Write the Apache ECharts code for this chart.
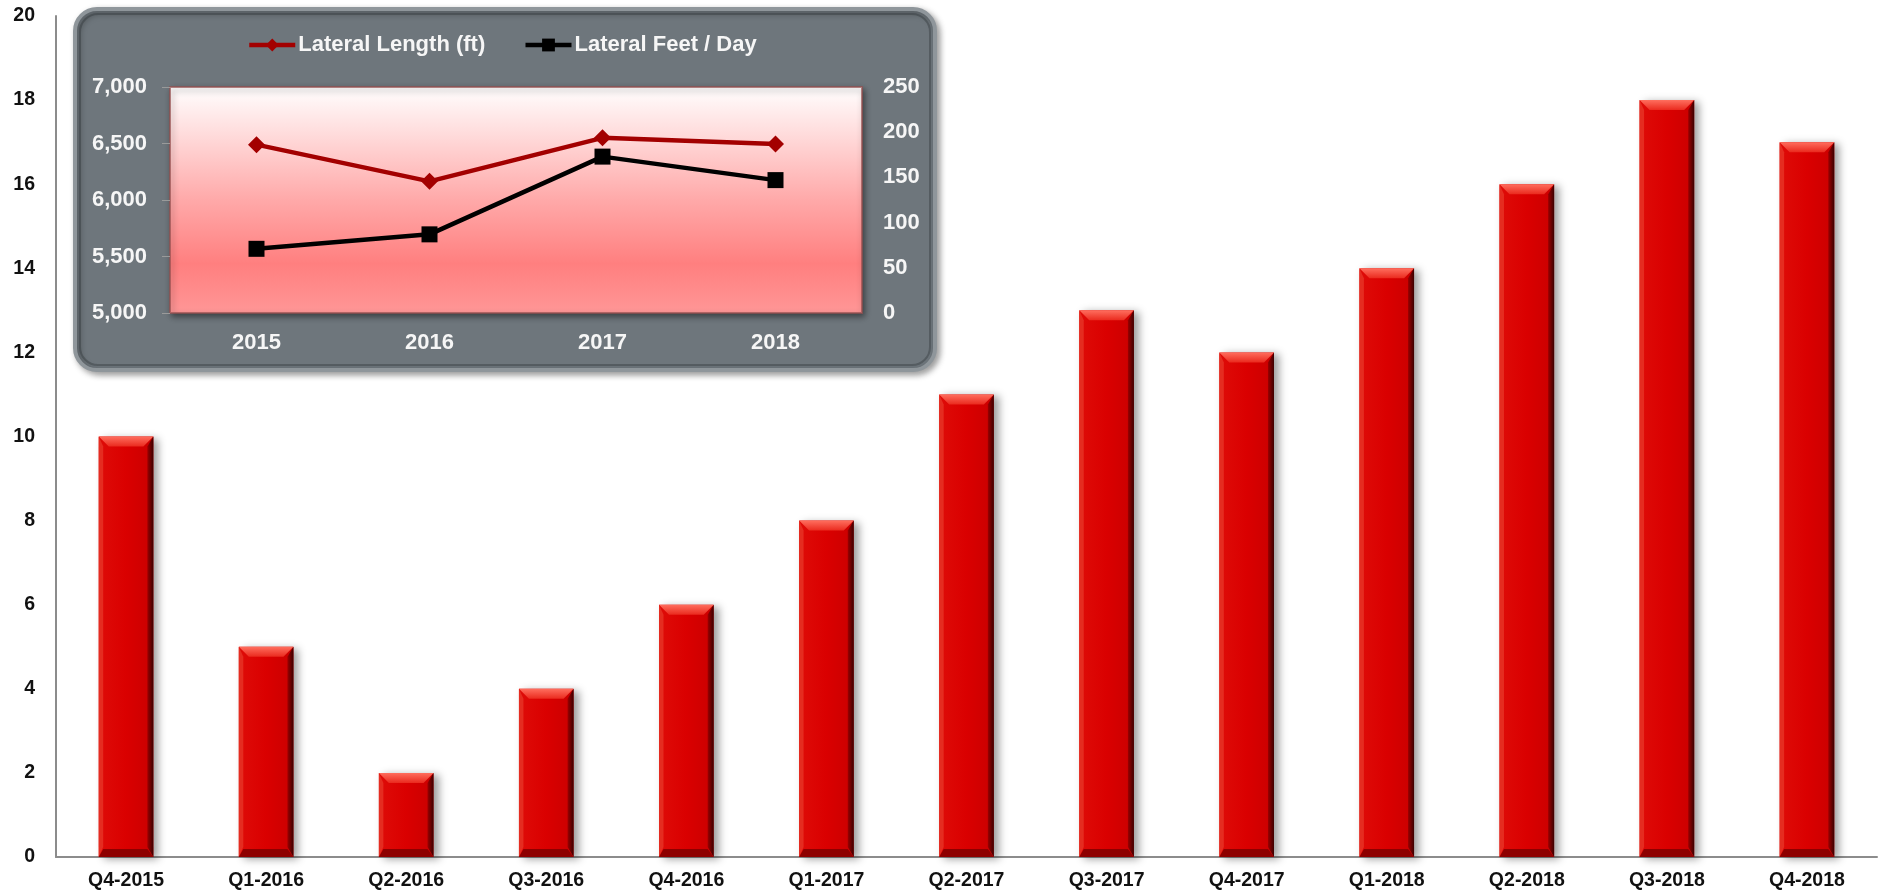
<!DOCTYPE html>
<html>
<head>
<meta charset="utf-8">
<title>Quarterly values with lateral length inset</title>
<script src="https://cdn.jsdelivr.net/npm/echarts/dist/echarts.min.js"></script>
<style>
  html, body { margin: 0; padding: 0; background: #ffffff; }
  #chart { width: 1881px; height: 895px; }
</style>
</head>
<body>
<div id="chart"></div>
<script>
// Quarterly bars
const quarters = ['Q4-2015', 'Q1-2016', 'Q2-2016', 'Q3-2016', 'Q4-2016', 'Q1-2017', 'Q2-2017',
  'Q3-2017', 'Q4-2017', 'Q1-2018', 'Q2-2018', 'Q3-2018', 'Q4-2018'];
const quarterlyValues = [10, 5, 2, 4, 6, 8, 11, 13, 12, 14, 16, 18, 17];

// Inset: yearly lateral metrics
const years = ['2015', '2016', '2017', '2018'];
const lateralLength = [6490, 6165, 6550, 6495];
const lateralFeetPerDay = [71, 87, 173, 147];

const FONT = "'Liberation Sans', Arial, Helvetica, sans-serif";
const LIGHT_TEXT = '#f6f6f6';

const chart = echarts.init(document.getElementById('chart'), null, { renderer: 'canvas' });

// Beveled red bar drawn from the category / value scales
function renderBevelBar(params, api) {
  const idx = api.value(0);
  const v = api.value(1);
  const top = api.coord([idx, v]);
  const base = api.coord([idx, 0]);
  const w = api.size([1, 0])[0] * 0.39;
  const x0 = top[0] - w / 2, x1 = top[0] + w / 2;
  const y0 = top[1], y1 = base[1];
  const b = Math.min(10, (y1 - y0) / 2);
  return {
    type: 'group',
    children: [
      {
        type: 'rect',
        shape: { x: x0, y: y0, width: w, height: y1 - y0 },
        style: {
          fill: new echarts.graphic.LinearGradient(0, 0, 1, 0, [
            { offset: 0, color: '#de0c08' },
            { offset: 0.5, color: '#da0000' },
            { offset: 1, color: '#ca0000' }
          ]),
          shadowBlur: 8, shadowOffsetX: 5, shadowOffsetY: 2, shadowColor: 'rgba(0,0,0,0.38)'
        }
      },
      {
        type: 'polygon',
        shape: { points: [[x0, y0], [x1, y0], [x1 - b, y0 + b], [x0 + b, y0 + b]] },
        style: {
          fill: new echarts.graphic.LinearGradient(0, 0, 0, 1, [
            { offset: 0, color: '#ff6e5e' },
            { offset: 1, color: '#ea2a1e' }
          ])
        }
      },
      {
        type: 'polygon',
        shape: { points: [[x0, y0], [x0 + b * 0.45, y0 + b], [x0 + b * 0.45, y1 - b], [x0, y1]] },
        style: { fill: '#e52c20' }
      },
      {
        type: 'polygon',
        shape: { points: [[x1, y0], [x1 - b * 0.6, y0 + b], [x1 - b * 0.6, y1 - b], [x1, y1]] },
        style: {
          fill: new echarts.graphic.LinearGradient(0, 0, 1, 0, [
            { offset: 0, color: '#9c0000' },
            { offset: 1, color: '#3c0000' }
          ])
        }
      },
      {
        type: 'polygon',
        shape: { points: [[x0, y1], [x1, y1], [x1 - b * 0.6, y1 - b * 0.8], [x0 + b * 0.45, y1 - b * 0.8]] },
        style: { fill: '#8e0000' }
      }
    ]
  };
}

const option = {
  animation: false,
  backgroundColor: '#ffffff',
  textStyle: { fontFamily: FONT },
  graphic: [
    {
      type: 'rect',
      z: 3,
      shape: { x: 75, y: 9, width: 860, height: 361, r: 22 },
      style: {
        fill: '#6e767c',
        stroke: '#8f969b',
        lineWidth: 4,
        shadowBlur: 6, shadowOffsetX: 3, shadowOffsetY: 3, shadowColor: 'rgba(0,0,0,0.35)'
      }
    },
    {
      type: 'rect',
      z: 3,
      shape: { x: 80, y: 14, width: 850, height: 351, r: 18 },
      style: { fill: 'none', stroke: 'rgba(40,45,50,0.35)', lineWidth: 2 }
    }
  ],
  legend: {
    z: 8,
    left: 247,
    top: 34,
    padding: 0,
    itemWidth: 46,
    itemHeight: 16,
    itemGap: 38,
    lineStyle: { width: 4.5 },
    textStyle: { color: LIGHT_TEXT, fontSize: 22, fontWeight: 'bold', fontFamily: FONT, padding: [0, 0, 0, -2] },
    data: ['Lateral Length (ft)', 'Lateral Feet / Day']
  },
  grid: [
    { left: 56, right: 4, top: 16, bottom: 38, containLabel: false },
    {
      z: 4,
      left: 170, top: 87, width: 692, height: 226,
      show: true,
      backgroundColor: {
        type: 'linear', x: 0, y: 0, x2: 0, y2: 1,
        colorStops: [
          { offset: 0, color: '#ffffff' },
          { offset: 0.22, color: '#ffdada' },
          { offset: 0.5, color: '#ffa9a9' },
          { offset: 0.78, color: '#ff7f7f' },
          { offset: 1, color: '#ff9797' }
        ]
      },
      borderColor: 'rgba(150,80,80,0.7)',
      borderWidth: 2,
      shadowColor: 'rgba(0,0,0,0.45)',
      shadowBlur: 6, shadowOffsetX: 2, shadowOffsetY: 3
    }
  ],
  xAxis: [
    {
      type: 'category',
      gridIndex: 0,
      data: quarters,
      boundaryGap: true,
      axisLine: { show: true, lineStyle: { color: '#8c8c8c', width: 2 } },
      axisTick: { show: false },
      axisLabel: { color: '#111111', fontSize: 19.5, fontWeight: 'bold', fontFamily: FONT, margin: 14, interval: 0 },
      splitLine: { show: false }
    },
    {
      type: 'category',
      gridIndex: 1,
      z: 5,
      data: years,
      boundaryGap: true,
      axisLine: { show: false },
      axisTick: { show: false },
      axisLabel: { color: LIGHT_TEXT, fontSize: 22, fontWeight: 'bold', fontFamily: FONT, margin: 19 },
      splitLine: { show: false }
    }
  ],
  yAxis: [
    {
      type: 'value',
      gridIndex: 0,
      min: 0, max: 20, interval: 2,
      axisLine: { show: true, lineStyle: { color: '#8c8c8c', width: 2 } },
      axisTick: { show: false },
      axisLabel: { color: '#111111', fontSize: 19.5, fontWeight: 'bold', fontFamily: FONT, margin: 21 },
      splitLine: { show: false }
    },
    {
      type: 'value',
      gridIndex: 1,
      z: 5,
      position: 'left',
      min: 5000, max: 7000, interval: 500,
      axisLine: { show: false },
      axisTick: { show: true, length: 8, lineStyle: { color: '#9a9a9a', width: 1 } },
      axisLabel: {
        color: LIGHT_TEXT, fontSize: 22, fontWeight: 'bold', fontFamily: FONT, margin: 23,
        formatter: v => v.toLocaleString('en-US')
      },
      splitLine: { show: false }
    },
    {
      type: 'value',
      gridIndex: 1,
      z: 5,
      position: 'right',
      min: 0, max: 250, interval: 50,
      axisLine: { show: false },
      axisTick: { show: false },
      axisLabel: { color: LIGHT_TEXT, fontSize: 22, fontWeight: 'bold', fontFamily: FONT, margin: 21 },
      splitLine: { show: false }
    }
  ],
  series: [
    {
      name: 'Quarterly',
      type: 'custom',
      z: 1,
      xAxisIndex: 0,
      yAxisIndex: 0,
      renderItem: renderBevelBar,
      encode: { x: 0, y: 1 },
      data: quarterlyValues.map((v, i) => [i, v])
    },
    {
      name: 'Lateral Length (ft)',
      type: 'line',
      z: 6,
      xAxisIndex: 1,
      yAxisIndex: 1,
      data: lateralLength,
      symbol: 'diamond',
      symbolSize: 17,
      lineStyle: { color: '#a30000', width: 4.5 },
      itemStyle: { color: '#a30000' }
    },
    {
      name: 'Lateral Feet / Day',
      type: 'line',
      z: 6,
      xAxisIndex: 1,
      yAxisIndex: 2,
      data: lateralFeetPerDay,
      symbol: 'rect',
      symbolSize: 16,
      lineStyle: { color: '#000000', width: 4.5 },
      itemStyle: { color: '#000000' }
    }
  ]
};

chart.setOption(option);
</script>
</body>
</html>
